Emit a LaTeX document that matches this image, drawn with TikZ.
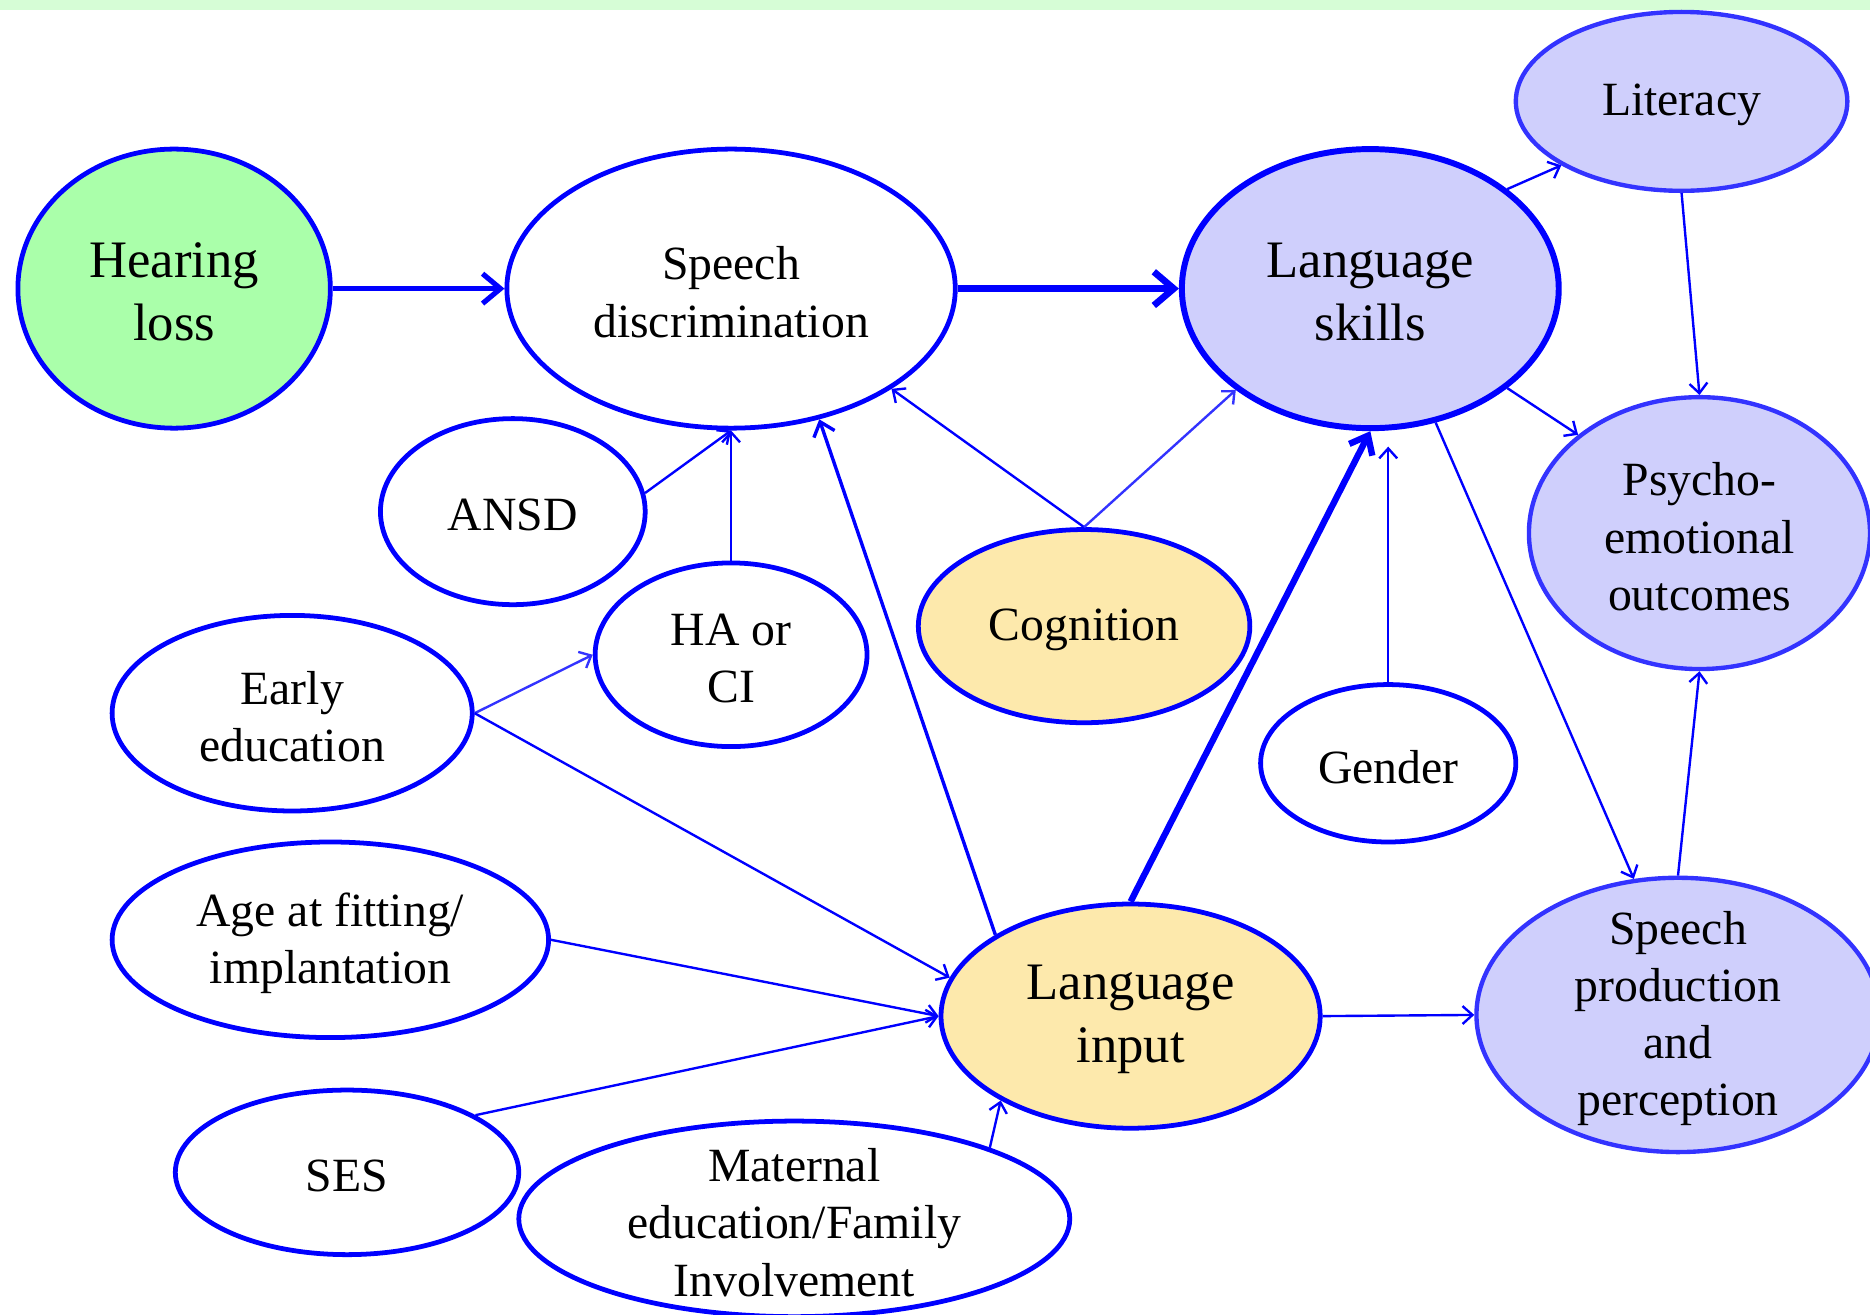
\documentclass[tikz,border=0pt]{standalone}
\usepackage{fontspec}
\setmainfont{Liberation Serif}
\usetikzlibrary{shapes.geometric,arrows.meta}
\definecolor{EdgeBlue}{RGB}{0,0,255}
\definecolor{SoftBlue}{RGB}{51,51,255}
\definecolor{HearFill}{RGB}{170,255,170}
\definecolor{OutFill}{RGB}{207,207,252}
\definecolor{InFill}{RGB}{253,233,172}
\definecolor{TopBand}{RGB}{214,253,214}

\begin{document}
\begin{tikzpicture}[
x=0.6pt,y=-0.6pt,
oval/.style 2 args={ellipse,draw=EdgeBlue,line width=2.4pt,inner sep=0pt,minimum width=#1*1.2pt,minimum height=#2*1.2pt},
lbl/.style={align=center,yshift=-1.8pt,font=\fontsize{24}{28.8}\selectfont},
big/.style={align=center,yshift=-1.8pt,font=\fontsize{26.5}{31.8}\selectfont},
thin/.style={-{Straight Barb[length=5pt,width=9pt]},line width=1.2pt,draw=EdgeBlue},
mid/.style={-{Straight Barb[length=6.5pt,width=11pt]},line width=1.7pt,draw=EdgeBlue},
heavy/.style={-{Straight Barb[length=9pt,width=15pt]},line width=2.6pt,draw=EdgeBlue}
]
\useasboundingbox (0,0) rectangle (1568,1102);
\fill[TopBand] (0,0) rectangle (1568,8);

% ellipses
\node[oval={131}{117},fill=HearFill] (hear) at (146,242) {};
\node[oval={188}{117},fill=white] (speech) at (613,242) {};
\node[oval={158}{117},fill=OutFill,line width=3pt] (lskill) at (1149,242) {};
\node[oval={139}{75},fill=OutFill,draw=SoftBlue,line width=2.2pt] (lit) at (1410,85) {};
\node[oval={143}{114},fill=OutFill,draw=SoftBlue,line width=2.2pt] (psy) at (1425,447) {};
\node[oval={111}{78},fill=white] (ansd) at (430,429) {};
\node[oval={114}{77},fill=white] (haci) at (613,549) {};
\node[oval={139}{81},fill=InFill] (cog) at (909,525) {};
\node[oval={107}{66},fill=white] (gender) at (1164,640) {};
\node[oval={151}{82},fill=white] (early) at (245,598) {};
\node[oval={183}{82},fill=white] (age) at (277,788) {};
\node[oval={144}{69},fill=white] (ses) at (291,983) {};
\node[oval={231}{82},fill=white] (mat) at (666,1022) {};
\node[oval={159}{94},fill=InFill] (linput) at (948,852) {};
\node[oval={169}{115},fill=OutFill,draw=SoftBlue,line width=2.2pt] (sprod) at (1407,851) {};

% connectors
\draw[heavy] (hear.east) -- (speech.west);
\draw[heavy,line width=3.4pt,-{Straight Barb[length=10pt,width=17pt]}] (speech.east) -- (lskill.west);
\draw[thin] (lskill.36) -- (lit.208);
\draw[thin] (lit.south) -- (psy.north);
\draw[thin] (lskill.-36) -- (psy.141);
\draw[thin] (lskill.-64) -- (sprod.108);
\draw[thin] (sprod.north) -- (psy.south);
\draw[thin] (linput.east) -- (sprod.west);
\draw[thin] (ansd.8) -- (speech.south);
\draw[thin] (haci.north) -- (speech.south);
\draw[mid] (linput.149) -- (speech.-56);
\draw[thin] (cog.north) -- (speech.-32);
\draw[thin,draw=SoftBlue] (cog.north) -- (lskill.217);
\draw[heavy,line width=3.2pt,-{Straight Barb[length=8pt,width=13pt]}] (linput.north) -- (lskill.south);
\draw[thin,shorten >=7.8pt] (gender.north) -- (lskill.south -| gender.north);
\draw[thin,draw=SoftBlue] (early.east) -- (haci.west);
\draw[thin] (early.east) -- (linput.168);
\draw[thin] (age.east) -- (linput.west);
\draw[thin] (ses.24) -- (linput.west);
\draw[thin] (mat.20) -- (linput.213);

% texts
\node[big] (hearT) at (hear) {Hearing\\loss};
\node[lbl] (speechT) at (speech) {Speech\\discrimination};
\node[big] (lskillT) at (lskill) {Language\\skills};
\node[lbl] (litT) at (lit) {Literacy};
\node[lbl] (psyT) at (psy) {Psycho-\\emotional\\outcomes};
\node[lbl] (ansdT) at (ansd) {ANSD};
\node[lbl] (haciT) at (haci) {HA or\\CI};
\node[lbl] (cogT) at (cog) {Cognition};
\node[lbl] (genderT) at (gender) {Gender};
\node[lbl] (earlyT) at (early) {Early\\education};
\node[lbl] (ageT) at (age) {Age at fitting/\\implantation};
\node[lbl] (sesT) at (ses) {SES};
\node[lbl] (matT) at (mat) {Maternal\\education/Family\\Involvement};
\node[big] (linputT) at (linput) {Language\\input};
\node[lbl] (sprodT) at (sprod) {Speech\\production\\and\\perception};
\end{tikzpicture}
\end{document}
